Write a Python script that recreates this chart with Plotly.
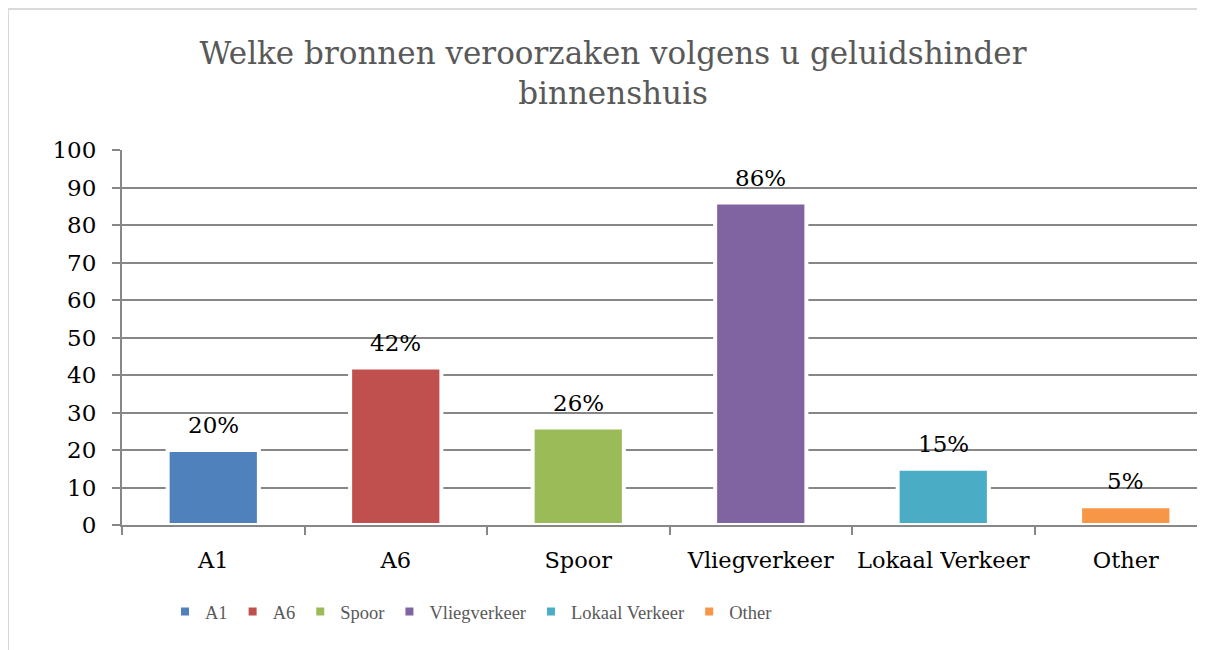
import plotly.graph_objects as go

categories = ["A1", "A6", "Spoor", "Vliegverkeer", "Lokaal Verkeer", "Other"]
values = [20, 42, 26, 86, 15, 5]
colors = ["#4F81BD", "#C0504D", "#9BBB59", "#8064A2", "#4BACC6", "#F79646"]
y_ticks = list(range(0, 101, 10))

title_text = "Welke bronnen veroorzaken volgens u geluidshinder<br>binnenshuis"

# page body has an 8px margin, so the figure is drawn 8px in from the window edge
OFF = 8
W, H = 1205 - OFF, 650 - OFF
ML = 122 - OFF
MT = 150 - OFF
MB = H - (525 - OFF)
MR = 0
pw = W - ML - MR
ph = H - MT - MB

def px_x(px):
    return (px - OFF - ML) / pw

def px_y(py):
    return (H - MB - (py - OFF)) / ph

grid = "#878787"

fig = go.Figure()
for c, v, col in zip(categories, values, colors):
    fig.add_trace(go.Bar(
        x=[c], y=[v], name=c, width=0.5,
        marker=dict(color=col, line=dict(color="white", width=4)),
        showlegend=True,
    ))
    fig.add_annotation(
        x=c, y=v, text=f"{v}%", showarrow=False, yanchor="bottom", yshift=10,
        font=dict(family="DejaVu Serif", size=23, color="#000000"),
    )

fig.update_layout(
    width=W, height=H,
    margin=dict(l=ML, r=MR, t=MT, b=MB),
    paper_bgcolor="white", plot_bgcolor="white",
    barmode="overlay",
    title=dict(
        text=title_text, xref="container", x=(613 - OFF) / W, xanchor="center",
        yref="container", y=1 - (64 - OFF) / H, yanchor="top",
        font=dict(family="DejaVu Serif", size=31, color="#595959"),
    ),
    xaxis=dict(
        type="category", categoryorder="array", categoryarray=categories,
        range=[-0.5, -0.5 + pw / 182.5],
        tickson="boundaries", ticks="outside", ticklen=8, tickcolor=grid, tickwidth=2,
        showline=True, linecolor=grid, linewidth=2, showgrid=False,
        tickfont=dict(family="DejaVu Serif", size=22.5, color="#000000"),
        tickangle=0, automargin=False,
        ticklabelstandoff=14,
    ),
    yaxis=dict(
        range=[0, 100], tickvals=y_ticks, ticks="outside", ticklen=8,
        tickcolor=grid, tickwidth=2, showline=True, linecolor=grid, linewidth=2,
        showgrid=True, gridcolor=grid, gridwidth=2, zeroline=False,
        tickfont=dict(family="DejaVu Serif", size=23, color="#000000"),
        automargin=False,
        ticklabelstandoff=11,
    ),
    legend=dict(
        orientation="h", x=px_x(471), xanchor="center", y=px_y(612), yanchor="middle",
        font=dict(family="Liberation Serif", size=18.5, color="#595959"),
        itemwidth=30, itemclick=False, traceorder="normal",
    ),
    shapes=[
        dict(type="line", xref="paper", yref="paper", x0=px_x(OFF), x1=px_x(OFF),
             y0=px_y(660), y1=px_y(9), line=dict(color="#D9D9D9", width=2), layer="below"),
        dict(type="line", xref="paper", yref="paper", x0=px_x(OFF), x1=px_x(1215),
             y0=px_y(9), y1=px_y(9), line=dict(color="#D9D9D9", width=2), layer="below"),
    ],
)

fig.write_html("out.html")
